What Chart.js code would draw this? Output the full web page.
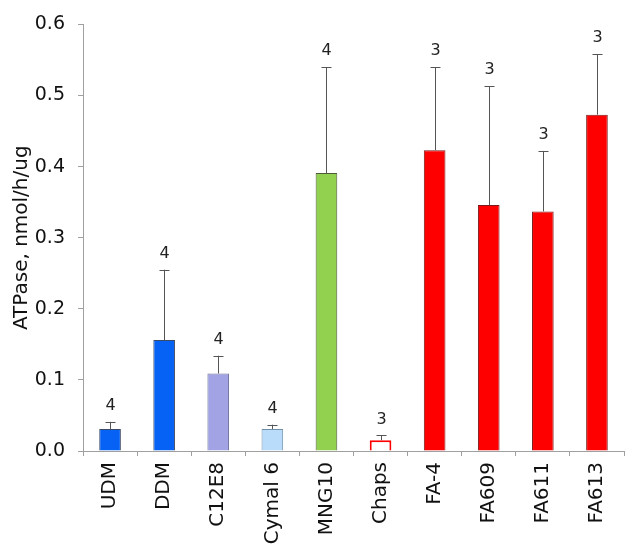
<!DOCTYPE html>
<html>
<head>
<meta charset="utf-8">
<script src="https://cdn.jsdelivr.net/npm/chart.js@4/dist/chart.umd.min.js"></script>
<style>
  html, body { margin: 0; padding: 0; background: #fff; }
  canvas { display: block; }
</style>
</head>
<body>
<canvas id="chart" width="633" height="554"></canvas>
<script>
(function () {
    "use strict";

    // detergents on the x axis
    var detergents = ["UDM", "DDM", "C12E8", "Cymal 6", "MNG10", "Chaps", "FA-4", "FA609", "FA611", "FA613"];
    // mean ATPase activity, nmol/h/ug
    var atpase = [0.031, 0.156, 0.109, 0.031, 0.391, 0.015, 0.423, 0.346, 0.337, 0.473];
    // upper error (SD)
    var errors = [0.010, 0.099, 0.025, 0.006, 0.149, 0.007, 0.117, 0.167, 0.085, 0.085];
    // number of experiments shown over each bar
    var counts = ["4", "4", "4", "4", "4", "3", "3", "3", "3", "3"];
    var yTicks = [0, 0.1, 0.2, 0.3, 0.4, 0.5, 0.6];

    var fills = ["#0562F5", "#0562F5", "#A1A3E4", "#B9DCFA", "#92D050", "#FFFFFF",
                 "#FF0000", "#FF0000", "#FF0000", "#FF0000"];
    var borders = ["#3b4a66", "#3b4a66", "#6b6f99", "#6f8fa8", "#4d5a3a", "#FF0000",
                   "#7a1a1a", "#7a1a1a", "#7a1a1a", "#7a1a1a"];
    var borderWidths = [1, 1, 1, 1, 1, 2, 1, 1, 1, 1];

    var FONT = "'DejaVu Sans', sans-serif";
    var AXIS_GREY = "#a0a0a0";

    // draws the upper error whiskers and the n labels
    var errorBars = {
        id: "errorBars",
        afterDatasetsDraw: function (chart) {
            var ctx = chart.ctx,
                yScale = chart.scales.y,
                meta = chart.getDatasetMeta(0);

            ctx.save();
            meta.data.forEach(function (bar, i) {
                var top = yScale.getPixelForValue(atpase[i] + errors[i]),
                    x = Math.round(bar.x) + 0.5;

                ctx.strokeStyle = "#555";
                ctx.lineWidth = 1;
                ctx.beginPath();
                ctx.moveTo(x, bar.y);
                ctx.lineTo(x, top);
                ctx.moveTo(x - 5, Math.round(top) + 0.5);
                ctx.lineTo(x + 5, Math.round(top) + 0.5);
                ctx.stroke();

                ctx.fillStyle = "#222";
                ctx.font = "16px " + FONT;
                ctx.textAlign = "center";
                ctx.textBaseline = "bottom";
                ctx.fillText(counts[i], x, top - 8);
            });
            ctx.restore();
        }
    };

    new Chart(document.getElementById("chart"), {
        type: "bar",
        data: {
            labels: detergents,
            datasets: [{
                data: atpase,
                backgroundColor: fills,
                borderColor: borders,
                borderWidth: borderWidths,
                barPercentage: 0.4,
                categoryPercentage: 1
            }]
        },
        options: {
            responsive: false,
            animation: false,
            devicePixelRatio: 1,
            layout: { padding: { top: 17, right: 9, left: 0, bottom: 0 } },
            plugins: {
                legend: { display: false },
                tooltip: { enabled: false }
            },
            scales: {
                x: {
                    afterFit: function (scale) { scale.height = 103; },
                    grid: {
                        offset: true,
                        drawOnChartArea: false,
                        drawTicks: true,
                        tickLength: 5,
                        color: AXIS_GREY
                    },
                    border: { color: AXIS_GREY },
                    ticks: {
                        minRotation: 90,
                        maxRotation: 90,
                        padding: 6,
                        color: "#111",
                        font: { family: FONT, size: 20 }
                    }
                },
                y: {
                    min: 0,
                    max: 0.6,
                    afterFit: function (scale) { scale.width = 83; },
                    afterBuildTicks: function (scale) {
                        scale.ticks = yTicks.map(function (v) { return { value: v }; });
                    },
                    grid: {
                        drawOnChartArea: false,
                        drawTicks: true,
                        tickLength: 5,
                        color: AXIS_GREY
                    },
                    border: { color: AXIS_GREY },
                    ticks: {
                        padding: 13,
                        color: "#111",
                        font: { family: FONT, size: 19 },
                        callback: function (v) { return Number(v).toFixed(1); }
                    },
                    title: {
                        display: true,
                        text: "ATPase, nmol/h/ug",
                        color: "#111",
                        padding: { top: 10, bottom: 0 },
                        font: { family: FONT, size: 20 }
                    }
                }
            }
        },
        plugins: [errorBars]
    });
})();
</script>
</body>
</html>
